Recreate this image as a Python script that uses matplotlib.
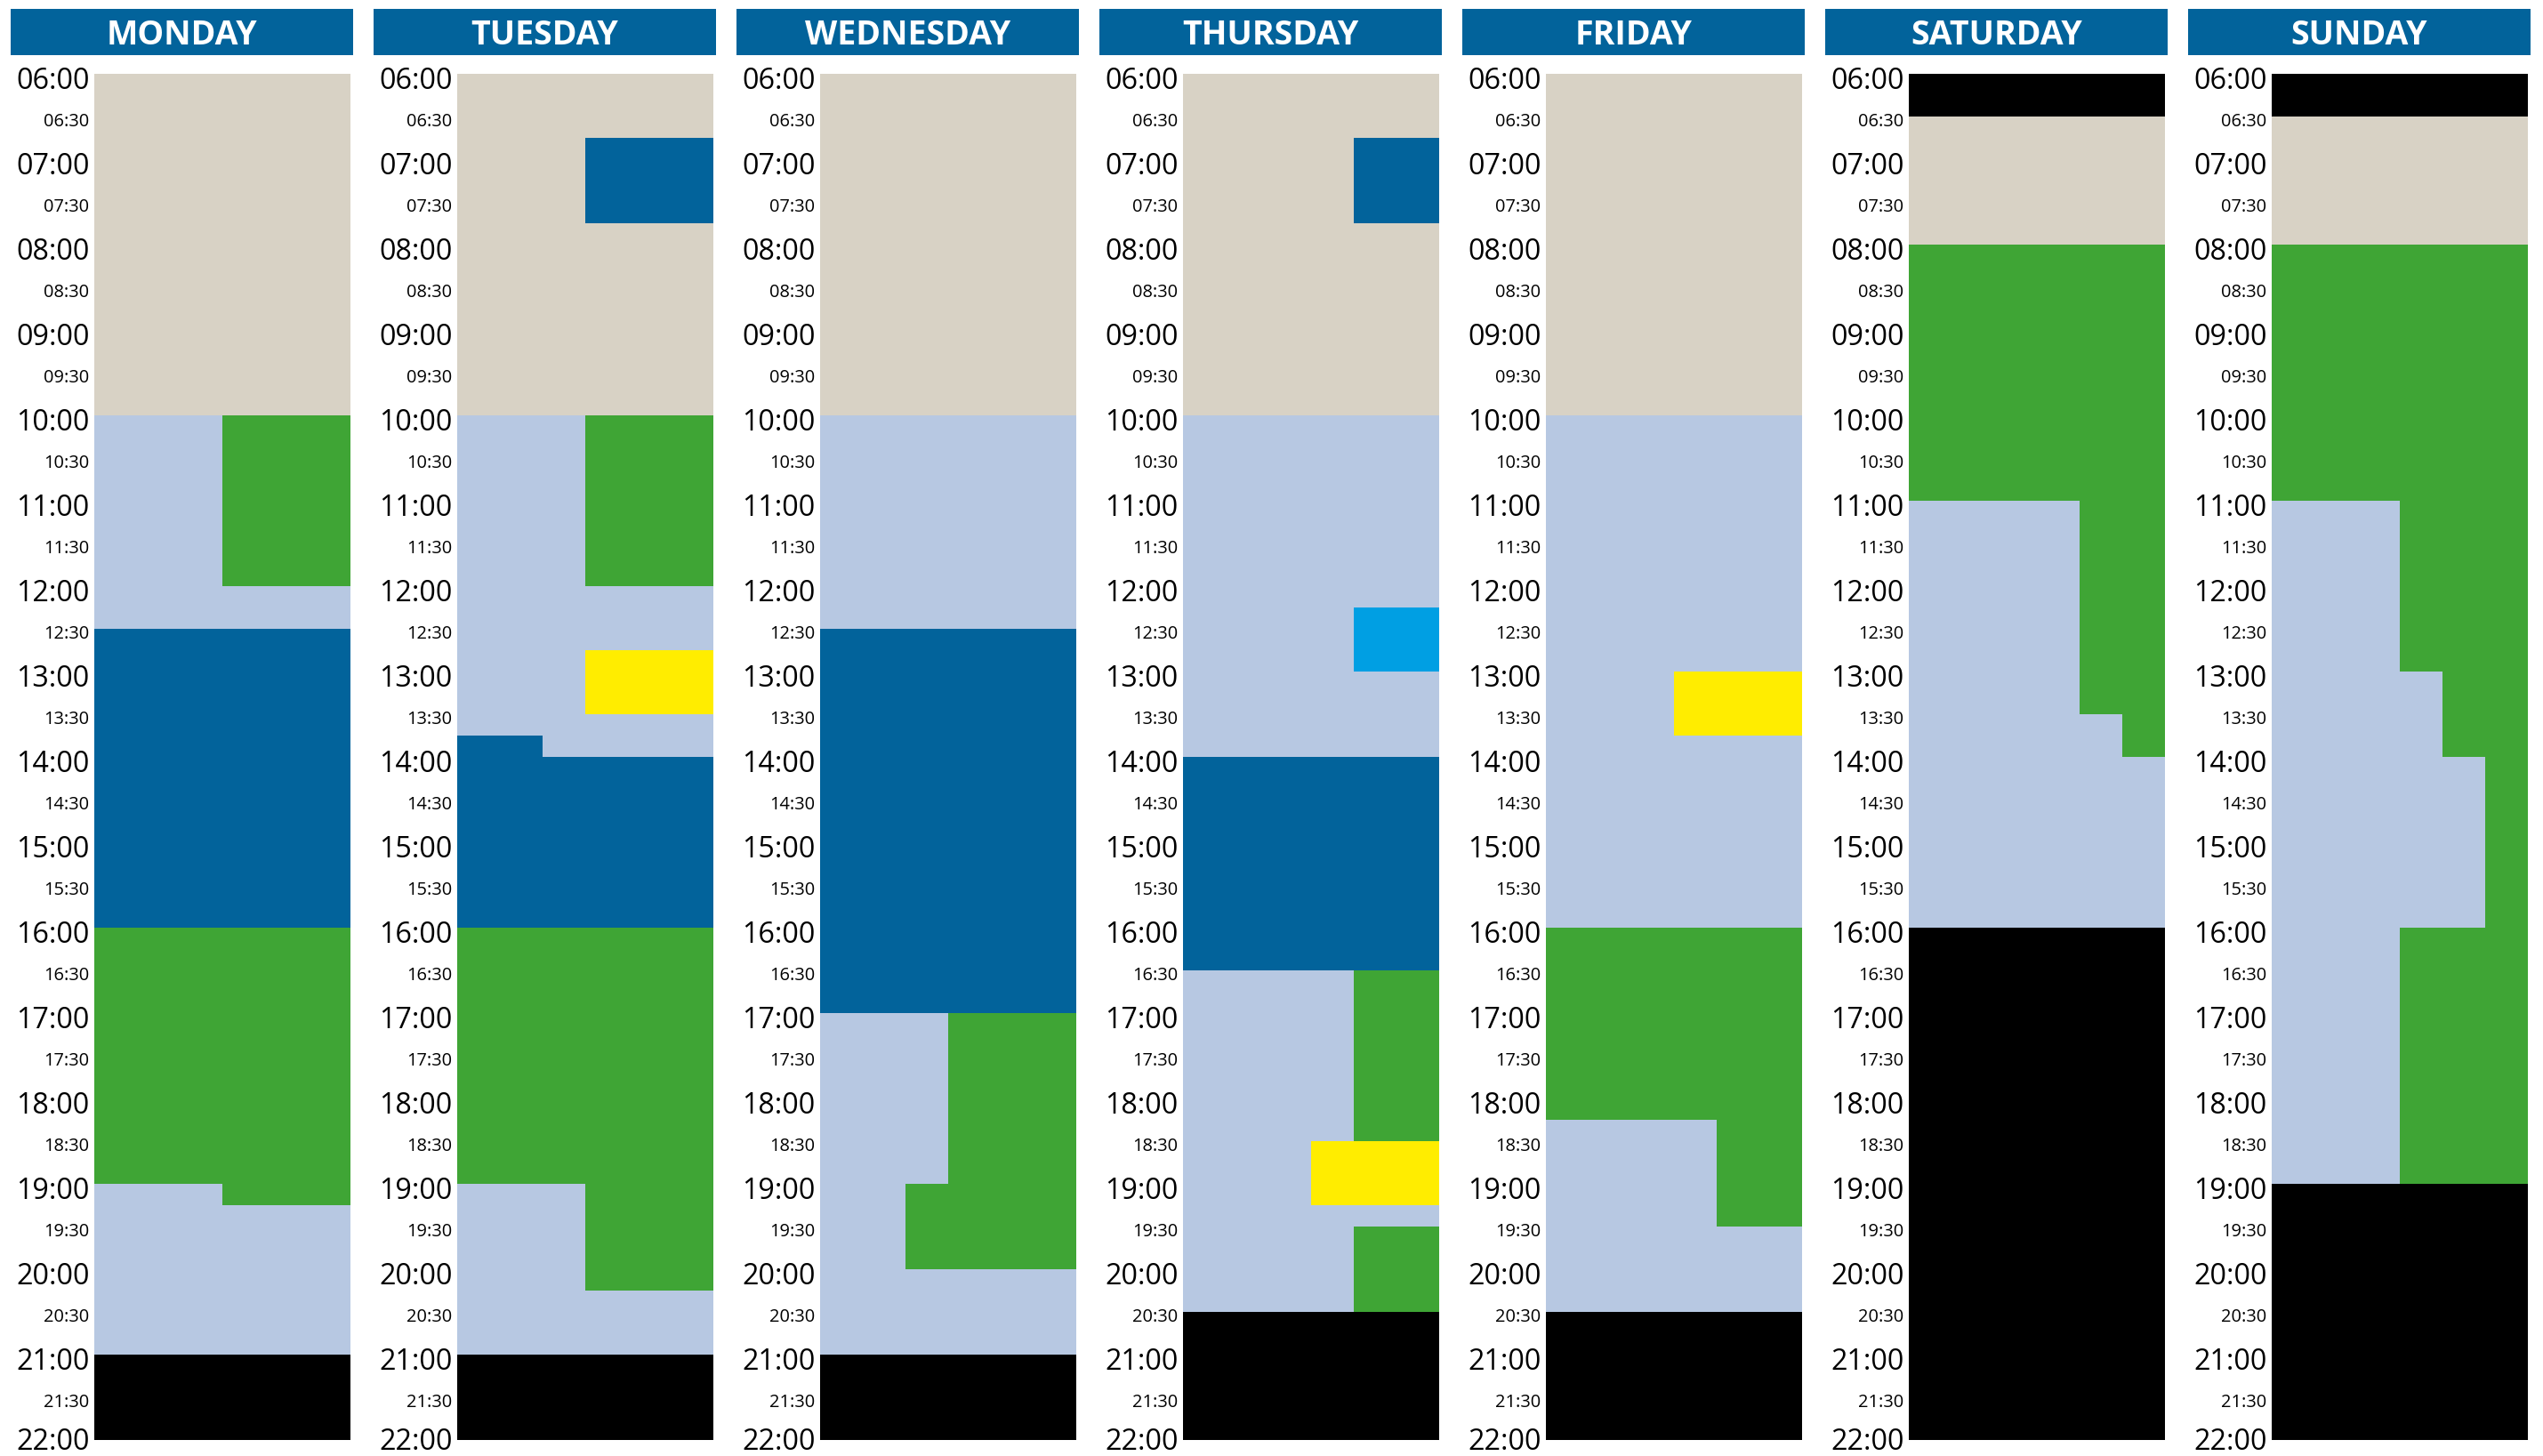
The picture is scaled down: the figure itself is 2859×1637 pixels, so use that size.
import matplotlib
matplotlib.use("Agg")
import matplotlib.pyplot as plt
from matplotlib.transforms import ScaledTranslation

# ---------------- data ----------------
days = ["MONDAY", "TUESDAY", "WEDNESDAY", "THURSDAY", "FRIDAY", "SATURDAY", "SUNDAY"]

hour_ticks = [6, 7, 8, 9, 10, 11, 12, 13, 14, 15, 16, 17, 18, 19, 20, 21, 22]
hour_labels = ["06:00", "07:00", "08:00", "09:00", "10:00", "11:00", "12:00", "13:00",
               "14:00", "15:00", "16:00", "17:00", "18:00", "19:00", "20:00", "21:00", "22:00"]
half_ticks = [6.5, 7.5, 8.5, 9.5, 10.5, 11.5, 12.5, 13.5, 14.5, 15.5, 16.5, 17.5,
              18.5, 19.5, 20.5, 21.5]
half_labels = ["06:30", "07:30", "08:30", "09:30", "10:30", "11:30", "12:30", "13:30",
               "14:30", "15:30", "16:30", "17:30", "18:30", "19:30", "20:30", "21:30"]

# segments: day index, start hour, end hour, left fraction, right fraction, kind
seg_day = [0, 0, 0, 0, 0, 0, 0, 0,
           1, 1, 1, 1, 1, 1, 1, 1, 1, 1, 1,
           2, 2, 2, 2, 2, 2, 2,
           3, 3, 3, 3, 3, 3, 3, 3, 3, 3,
           4, 4, 4, 4, 4, 4, 4,
           5, 5, 5, 5, 5, 5, 5,
           6, 6, 6, 6, 6, 6, 6, 6, 6]
seg_start = [6, 10, 10, 12.5, 16, 19, 19, 21,
             6, 6.75, 10, 10, 12.75, 13.75, 14, 16, 19, 19, 21,
             6, 10, 12.5, 17, 17, 19, 21,
             6, 6.75, 10, 12.25, 14, 16.5, 16.5, 18.5, 19.5, 20.5,
             6, 10, 13, 16, 18.25, 18.25, 20.5,
             6, 6.5, 8, 11, 11, 13.5, 16,
             6, 6.5, 8, 11, 11, 13, 14, 16, 19]
seg_end = [10, 12.5, 12, 16, 19, 21, 19.25, 22,
           10, 7.75, 14, 12, 13.5, 14, 16, 19, 21, 20.25, 22,
           10, 12.5, 17, 21, 20, 20, 22,
           10, 7.75, 14, 13, 16.5, 20.5, 18.5, 19.25, 20.5, 22,
           10, 16, 13.75, 18.25, 20.5, 19.5, 22,
           6.5, 8, 11, 16, 13.5, 14, 22,
           6.5, 8, 11, 19, 13, 14, 16, 19, 22]
seg_left = [0, 0, 1/2, 0, 0, 0, 1/2, 0,
            0, 1/2, 0, 1/2, 1/2, 0, 0, 0, 0, 1/2, 0,
            0, 0, 0, 0, 1/2, 1/3, 0,
            0, 2/3, 0, 2/3, 0, 0, 2/3, 1/2, 2/3, 0,
            0, 0, 1/2, 0, 0, 2/3, 0,
            0, 0, 0, 0, 2/3, 5/6, 0,
            0, 0, 0, 0, 1/2, 2/3, 5/6, 1/2, 0]
seg_right = [1, 1, 1, 1, 1, 1, 1, 1,
             1, 1, 1, 1, 1, 1/3, 1, 1, 1, 1, 1,
             1, 1, 1, 1, 1, 1/2, 1,
             1, 1, 1, 1, 1, 1, 1, 1, 1, 1,
             1, 1, 1, 1, 1, 1, 1,
             1, 1, 1, 1, 1, 1, 1,
             1, 1, 1, 1, 1, 1, 1, 1, 1]
seg_kind = ["beige", "light", "green", "dark", "green", "light", "green", "black",
            "beige", "dark", "light", "green", "yellow", "dark", "dark", "green", "light", "green", "black",
            "beige", "light", "dark", "light", "green", "green", "black",
            "beige", "dark", "light", "cyan", "dark", "light", "green", "yellow", "green", "black",
            "beige", "light", "yellow", "green", "light", "green", "black",
            "black", "beige", "green", "light", "green", "green", "black",
            "black", "beige", "green", "light", "green", "green", "green", "green", "black"]

colors = {"beige": "#d8d2c5", "light": "#b7c8e2", "dark": "#02639b", "green": "#3fa535",
          "yellow": "#ffed00", "cyan": "#009fe3", "black": "#000000"}
header_color = "#02639b"

# ---------------- layout ----------------
W, H = 2859, 1637
DPI = 100
plt.rcParams["font.family"] = ["Open Sans", "DejaVu Sans"]
fig = plt.figure(figsize=(W / DPI, H / DPI), dpi=DPI)
fig.patch.set_facecolor("white")

pitch = 408
plot_x0, plot_w = 106, 288
plot_top, plot_bot = 83, 1619
head_x0, head_w = 12, 385
head_top, head_bot = 10, 62

shift = ScaledTranslation(0, -4 / DPI, fig.dpi_scale_trans)
shift_last = ScaledTranslation(0, 2 / DPI, fig.dpi_scale_trans)

for k, day in enumerate(days):
    # header
    hax = fig.add_axes([(head_x0 + pitch * k) / W, 1 - head_bot / H, head_w / W,
                        (head_bot - head_top) / H])
    hax.set_facecolor(header_color)
    hax.set_xticks([])
    hax.set_yticks([])
    for s in hax.spines.values():
        s.set_visible(False)
    hax.text(0.5, 12 / (head_bot - head_top), day, transform=hax.transAxes,
             ha="center", va="baseline", color="white", fontsize=27, fontweight="bold")

    # schedule
    ax = fig.add_axes([(plot_x0 + pitch * k) / W, 1 - plot_bot / H, plot_w / W,
                       (plot_bot - plot_top) / H])
    for d, s0, s1, l, r, kind in zip(seg_day, seg_start, seg_end, seg_left, seg_right, seg_kind):
        if d != k:
            continue
        ax.bar(l, s1 - s0, width=r - l, bottom=s0, align="edge",
               color=colors[kind], linewidth=0)
    ax.set_xlim(0, 1)
    ax.set_ylim(22, 6)
    ax.set_xticks([])
    ax.set_yticks(hour_ticks, labels=hour_labels, fontsize=23.2)
    ax.set_yticks(half_ticks, labels=half_labels, minor=True, fontsize=14.4)
    ax.tick_params(axis="y", which="both", length=0, pad=4)
    for s in ax.spines.values():
        s.set_visible(False)
    for lab in ax.get_yticklabels(which="both"):
        if lab.get_text() == hour_labels[-1]:
            lab.set_transform(lab.get_transform() + shift_last)
        else:
            lab.set_transform(lab.get_transform() + shift)

fig.savefig("out.png", dpi=DPI, facecolor="white")
